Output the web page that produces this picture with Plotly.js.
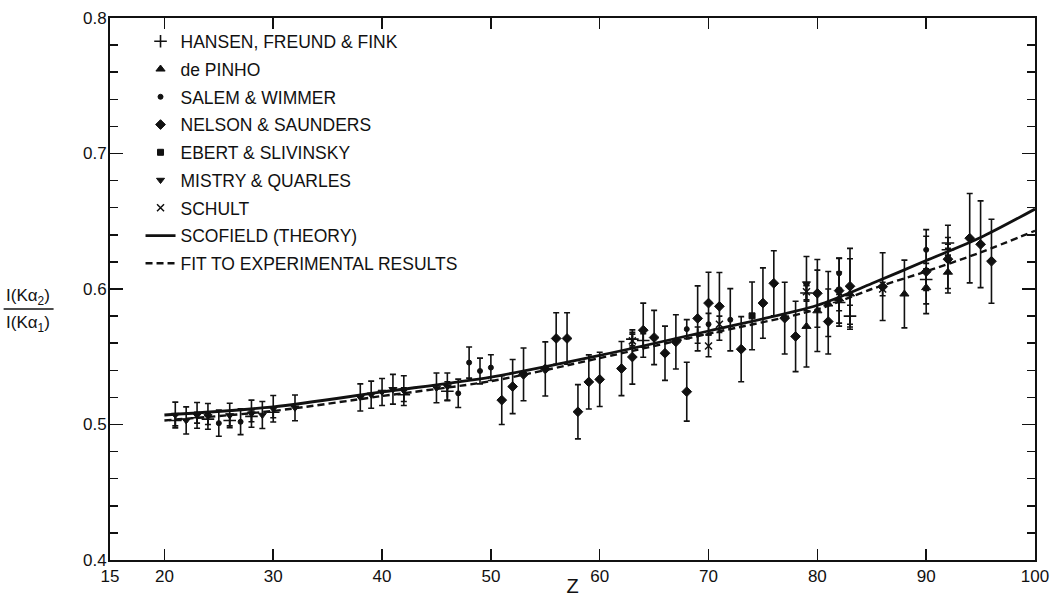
<!DOCTYPE html>
<html>
<head>
<meta charset="utf-8">
<script src="https://cdn.plot.ly/plotly-3.0.1.min.js"></script>
<style>html,body{margin:0;padding:0;background:#fff;}#chart{width:1050px;height:597px;}</style>
</head>
<body>
<div id="chart"></div>
<script>
// ---- data ----
const seriesNames = ["HANSEN, FREUND & FINK", "de PINHO", "SALEM & WIMMER", "NELSON & SAUNDERS",
  "EBERT & SLIVINSKY", "MISTRY & QUARLES", "SCHULT", "SCOFIELD (THEORY)", "FIT TO EXPERIMENTAL RESULTS"];

const hansenZ   = [21, 23, 24, 26, 28, 30, 42, 46, 63, 64, 69, 79, 82, 83, 90, 92, 92];
const hansenV   = [0.503, 0.505, 0.504, 0.503, 0.506, 0.509, 0.522, 0.5245, 0.563, 0.562, 0.566, 0.597, 0.590, 0.580, 0.607, 0.634, 0.629];
const hansenE   = [0.004, 0.004, 0.004, 0.004, 0.004, 0.004, 0.005, 0.007, 0.005, 0.005, 0.006, 0.006, 0.006, 0.008, 0.008, 0.004, 0.004];

const pinhoZ    = [79, 80, 81, 82, 83, 88, 90, 92];
const pinhoV    = [0.5724, 0.5839, 0.5889, 0.5926, 0.5963, 0.5963, 0.601, 0.6124];
const pinhoE    = [0.030, 0.030, 0.024, 0.020, 0.026, 0.025, 0.012, 0.012];

const salemZ    = [25, 27, 47, 48, 49, 50, 68, 70, 72, 82, 90];
const salemV    = [0.501, 0.502, 0.523, 0.5457, 0.5395, 0.542, 0.5704, 0.574, 0.5773, 0.6116, 0.6289];
const salemE    = [0.0097, 0.0095, 0.0105, 0.0115, 0.0095, 0.0095, 0.007, 0.008, 0.023, 0.011, 0.010];

const nelsonZ   = [51, 52, 53, 55, 56, 57, 58, 59, 60, 62, 63, 64, 65, 66, 67, 68, 69, 70, 71, 73, 75, 76, 77, 78, 80, 81, 82, 83, 86, 90, 92, 94, 95, 96];
const nelsonV   = [0.518, 0.528, 0.537, 0.541, 0.5635, 0.5635, 0.5094, 0.5314, 0.5333, 0.5413, 0.5498, 0.5696, 0.5642, 0.5526, 0.561, 0.5242, 0.5783, 0.5896, 0.5872, 0.5556, 0.5896, 0.6042, 0.5785, 0.565, 0.5968, 0.576, 0.5988, 0.602, 0.6017, 0.6128, 0.622, 0.6375, 0.633, 0.6205];
const nelsonE   = [0.018, 0.020, 0.0195, 0.020, 0.019, 0.019, 0.020, 0.020, 0.020, 0.020, 0.020, 0.020, 0.020, 0.020, 0.020, 0.0217, 0.024, 0.0228, 0.025, 0.024, 0.026, 0.024, 0.0265, 0.026, 0.025, 0.024, 0.024, 0.028, 0.025, 0.031, 0.025, 0.033, 0.032, 0.031];

const ebertZ    = [74];
const ebertV    = [0.5802];
const ebertE    = [0.025];

const mistryZ   = [21, 22, 23, 24, 26, 28, 29, 30, 32, 38, 39, 40, 41, 42, 45, 46, 79];
const mistryV   = [0.507, 0.503, 0.5067, 0.506, 0.5067, 0.508, 0.507, 0.5116, 0.5123, 0.520, 0.522, 0.524, 0.526, 0.525, 0.527, 0.528, 0.604];
const mistryE   = [0.0095, 0.010, 0.0095, 0.0095, 0.009, 0.010, 0.010, 0.0098, 0.0095, 0.010, 0.010, 0.010, 0.011, 0.011, 0.011, 0.010, 0.020];

const schultZ   = [63, 70, 71, 79, 86];
const schultV   = [0.5617, 0.558, 0.574, 0.598, 0.600];
const schultE   = [0.005, 0.008, 0.006, 0.006, 0.005];

const curveZ    = [20, 30, 40, 50, 60, 70, 80, 85, 90, 95, 100];
const scofieldV = [0.507, 0.513, 0.524, 0.535, 0.551, 0.569, 0.588, 0.604, 0.621, 0.638, 0.659];
const fitV      = [0.503, 0.510, 0.521, 0.532, 0.549, 0.567, 0.585, 0.600, 0.613, 0.627, 0.643];

const xTickVals  = [15, 20, 30, 40, 50, 60, 70, 80, 90, 100];
const xTickText  = ["15", "20", "30", "40", "50", "60", "70", "80", "90", "100"];
const yTickVals  = [0.4, 0.5, 0.6, 0.7, 0.8];
const yTickText  = ["0.4", "0.5", "0.6", "0.7", "0.8"];

// ---- styling ----
const INK = "#111";
const FONT = "Liberation Sans, Arial, sans-serif";

function pts(idx, xs, ys, es, symbol, size, lw) {
  return {
    type: "scatter", mode: "markers", name: seriesNames[idx], legendgroup: "g" + idx,
    x: xs, y: ys,
    marker: {symbol: symbol, size: size, color: INK, line: {color: INK, width: lw || 1}},
    error_y: {type: "data", array: es, visible: true, color: INK, thickness: 1.6, width: 3},
    cliponaxis: false
  };
}

const traces = [
  pts(0, hansenZ, hansenV, hansenE, "cross-thin", 9, 1.6),
  pts(1, pinhoZ, pinhoV, pinhoE, "triangle-up", 8),
  pts(2, salemZ, salemV, salemE, "circle", 5),
  pts(3, nelsonZ, nelsonV, nelsonE, "diamond", 7.5),
  pts(4, ebertZ, ebertV, ebertE, "square", 6),
  pts(5, mistryZ, mistryV, mistryE, "triangle-down", 7),
  pts(6, schultZ, schultV, schultE, "x-thin", 7, 1.5),
  {type: "scatter", mode: "lines", name: seriesNames[7], legendgroup: "g7", x: curveZ, y: scofieldV,
   line: {color: INK, width: 2.8, shape: "spline", smoothing: 0.8}},
  {type: "scatter", mode: "lines", name: seriesNames[8], legendgroup: "g8", x: curveZ, y: fitV,
   line: {color: INK, width: 2.4, dash: "7px,4px", shape: "spline", smoothing: 0.8}}
];

const layout = {
  width: 1050, height: 597,
  margin: {l: 110, r: 15, t: 18, b: 37, pad: 0},
  paper_bgcolor: "#fff", plot_bgcolor: "#fff",
  font: {family: FONT, color: INK, size: 17},
  showlegend: true,
  legend: {x: 0.033, y: 0.99, xanchor: "left", yanchor: "top", bgcolor: "rgba(0,0,0,0)",
           font: {family: FONT, size: 17.5, color: INK}, traceorder: "grouped", tracegroupgap: 2,
           itemwidth: 30},
  xaxis: {
    range: [15, 100], tickmode: "array", tickvals: xTickVals, ticktext: xTickText,
    ticks: "inside", ticklen: 11, tickwidth: 1.5, tickcolor: INK,
    showline: true, linecolor: INK, linewidth: 2, mirror: "ticks",
    showgrid: false, zeroline: false,
    tickfont: {family: FONT, size: 17, color: INK},
    title: {text: "Z", font: {family: FONT, size: 20, color: INK}, standoff: 2}
  },
  yaxis: {
    range: [0.4, 0.8], tickmode: "array", tickvals: yTickVals, ticktext: yTickText,
    ticks: "inside", ticklen: 13, tickwidth: 1.5, tickcolor: INK,
    minor: {dtick: 0.02, ticks: "inside", ticklen: 8, tickwidth: 1.5, tickcolor: INK, showgrid: false},
    showline: true, linecolor: INK, linewidth: 2, mirror: "ticks",
    showgrid: false, zeroline: false, ticklabelstandoff: -2,
    tickfont: {family: FONT, size: 17, color: INK}
  },
  annotations: [
    {xref: "paper", yref: "paper", x: -0.089, y: 0.486, text: "I(Kα<sub>2</sub>)", showarrow: false,
     font: {family: FONT, size: 17, color: INK}, xanchor: "center", yanchor: "middle"},
    {xref: "paper", yref: "paper", x: -0.089, y: 0.436, text: "I(Kα<sub>1</sub>)", showarrow: false,
     font: {family: FONT, size: 17, color: INK}, xanchor: "center", yanchor: "middle"}
  ],
  shapes: [
    {type: "line", xref: "paper", yref: "paper", x0: -0.115, x1: -0.061, y0: 0.463, y1: 0.463,
     line: {color: INK, width: 1.5}}
  ]
};

Plotly.newPlot("chart", traces, layout, {staticPlot: true, displayModeBar: false});
</script>
</body>
</html>
